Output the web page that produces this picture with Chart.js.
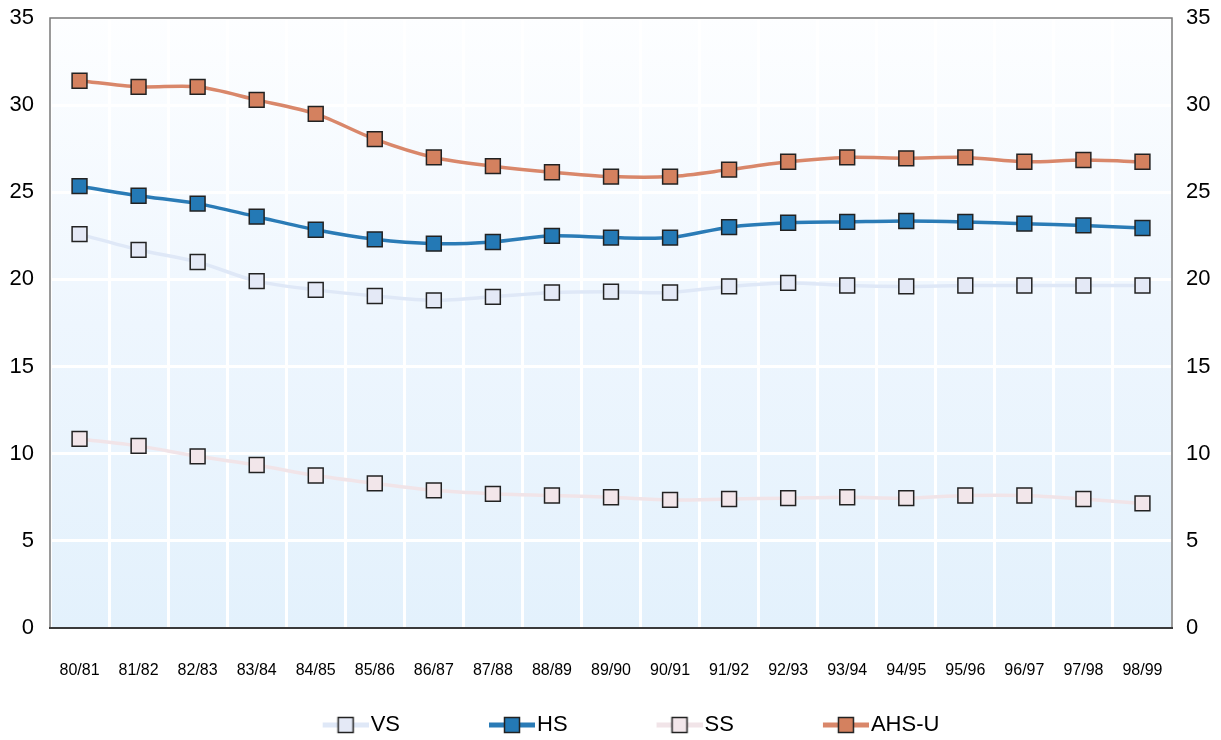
<!DOCTYPE html>
<html lang="en">
<head>
    <meta charset="UTF-8">
    <title>Chart</title>
    <script src="https://cdn.jsdelivr.net/npm/chart.js"></script>
    <style>
        html, body { margin: 0; padding: 0; background: #ffffff; }
        canvas { display: block; }
    </style>
</head>
<body>
    <canvas id="chart" width="1221" height="740"></canvas>
    <script>
        const years = ['80/81', '81/82', '82/83', '83/84', '84/85', '85/86', '86/87', '87/88', '88/89', '89/90',
                       '90/91', '91/92', '92/93', '93/94', '94/95', '95/96', '96/97', '97/98', '98/99'];
        const vsValues = [22.6, 21.7, 21.0, 19.9, 19.4, 19.05, 18.8, 19.0, 19.25, 19.3,
                          19.25, 19.6, 19.8, 19.65, 19.6, 19.65, 19.65, 19.65, 19.65];
        const hsValues = [25.35, 24.8, 24.35, 23.6, 22.85, 22.3, 22.05, 22.15, 22.5, 22.4,
                          22.4, 23.0, 23.25, 23.3, 23.35, 23.3, 23.2, 23.1, 22.95];
        const ssValues = [10.85, 10.45, 9.85, 9.35, 8.75, 8.3, 7.9, 7.7, 7.6, 7.5,
                          7.35, 7.4, 7.45, 7.5, 7.45, 7.6, 7.6, 7.4, 7.15];
        const ahsValues = [31.4, 31.05, 31.05, 30.3, 29.5, 28.05, 27.0, 26.5, 26.15, 25.9,
                           25.9, 26.3, 26.75, 27.0, 26.95, 27.0, 26.75, 26.85, 26.75];
        const yTicks = [0, 5, 10, 15, 20, 25, 30, 35];

        const fontFamily = "'Liberation Sans', Arial, sans-serif";
        const legendGap = 98;

        // legend symbol: short line with a square, padded on the left to space the items
        function legendSymbol(lineColor, fillColor) {
            const c = document.createElement('canvas');
            c.width = legendGap + 46;
            c.height = 20;
            const g = c.getContext('2d');
            g.strokeStyle = lineColor;
            g.lineWidth = 5;
            g.beginPath();
            g.moveTo(legendGap, 10);
            g.lineTo(legendGap + 46, 10);
            g.stroke();
            g.fillStyle = fillColor;
            g.fillRect(legendGap + 15.5, 2.5, 15, 15);
            g.strokeStyle = '#222222';
            g.lineWidth = 1.5;
            g.strokeRect(legendGap + 15.5, 2.5, 15, 15);
            return c;
        }

        function series(label, data, lineColor, fillColor) {
            return {
                label: label,
                data: data,
                borderColor: lineColor,
                backgroundColor: fillColor,
                borderWidth: 3.5,
                tension: 0.3,
                pointStyle: 'rect',
                pointRadius: 10.5,
                pointHoverRadius: 10.5,
                pointBorderColor: '#222222',
                pointBorderWidth: 1.5,
                pointBackgroundColor: fillColor,
                legendSymbol: legendSymbol(lineColor, fillColor)
            };
        }

        const plotBackground = {
            id: 'plotBackground',
            beforeDraw(chart) {
                const { ctx, chartArea: a } = chart;
                const grad = ctx.createLinearGradient(0, a.top, 0, a.bottom);
                grad.addColorStop(0, '#fdfeff');
                grad.addColorStop(0.5, '#eef6fe');
                grad.addColorStop(1, '#e3f1fc');
                ctx.save();
                ctx.fillStyle = grad;
                ctx.fillRect(a.left, a.top, a.right - a.left, a.bottom - a.top);
                ctx.restore();
            },
            beforeDatasetsDraw(chart) {
                const { ctx, chartArea: a } = chart;
                ctx.save();
                ctx.strokeStyle = '#7a7a7a';
                ctx.lineWidth = 1.5;
                ctx.beginPath();
                ctx.moveTo(a.left, a.bottom);
                ctx.lineTo(a.left, a.top);
                ctx.lineTo(a.right, a.top);
                ctx.lineTo(a.right, a.bottom);
                ctx.stroke();
                ctx.strokeStyle = '#3a3a3a';
                ctx.lineWidth = 2;
                ctx.beginPath();
                ctx.moveTo(a.left - 1, a.bottom);
                ctx.lineTo(a.right + 1, a.bottom);
                ctx.stroke();
                ctx.restore();
            },
            afterLayout(chart) {
                // nudge the legend row into place
                const lg = chart.legend;
                lg.left -= 24; lg.right -= 24;
                lg.top += 6; lg.bottom += 6;
            }
        };

        function fixWidth(w) {
            return function (scale) {
                scale.width = w;
                scale.paddingTop = 0;
                scale.paddingBottom = 0;
            };
        }

        new Chart(document.getElementById('chart'), {
            type: 'line',
            data: {
                labels: years,
                datasets: [
                    series('VS', vsValues, '#dfe8f7', '#e4e9f6'),
                    series('HS', hsValues, '#2a7bb6', '#2479b5'),
                    series('SS', ssValues, '#f1e4e8', '#f2e6ea'),
                    series('AHS-U', ahsValues, '#d9876a', '#d4815f')
                ]
            },
            plugins: [plotBackground],
            options: {
                responsive: false,
                animation: false,
                events: [],
                layout: { padding: { top: 18, left: 0, right: 0, bottom: 0 } },
                plugins: {
                    tooltip: { enabled: false },
                    legend: {
                        position: 'bottom',
                        labels: {
                            usePointStyle: true,
                            pointStyleWidth: legendGap + 28,
                            padding: 0,
                            color: '#000000',
                            font: { family: fontFamily, size: 22 },
                            generateLabels(chart) {
                                return chart.data.datasets.map((ds, i) => ({
                                    text: ds.label,
                                    pointStyle: ds.legendSymbol,
                                    fillStyle: ds.backgroundColor,
                                    strokeStyle: ds.borderColor,
                                    lineWidth: 0,
                                    fontColor: '#000000',
                                    datasetIndex: i,
                                    hidden: false
                                }));
                            }
                        }
                    }
                },
                scales: {
                    x: {
                        offset: true,
                        grid: { offset: true, color: '#ffffff', lineWidth: 3, drawTicks: false },
                        border: { display: false },
                        ticks: { color: '#000000', padding: 33, maxRotation: 0, autoSkip: false,
                                 font: { family: fontFamily, size: 16 } },
                        afterFit(scale) { scale.height = 80; }
                    },
                    y: {
                        position: 'left',
                        min: 0, max: 35,
                        afterBuildTicks(scale) { scale.ticks = yTicks.map(v => ({ value: v })); },
                        grid: { color: '#ffffff', lineWidth: 3, drawTicks: false },
                        border: { display: false },
                        ticks: { color: '#000000', padding: 16, font: { family: fontFamily, size: 22 } },
                        afterFit: fixWidth(50)
                    },
                    y1: {
                        position: 'right',
                        min: 0, max: 35,
                        afterBuildTicks(scale) { scale.ticks = yTicks.map(v => ({ value: v })); },
                        grid: { display: false, drawTicks: false },
                        border: { display: false },
                        ticks: { color: '#000000', padding: 14, font: { family: fontFamily, size: 22 } },
                        afterFit: fixWidth(49)
                    }
                }
            }
        });
    </script>
</body>
</html>
